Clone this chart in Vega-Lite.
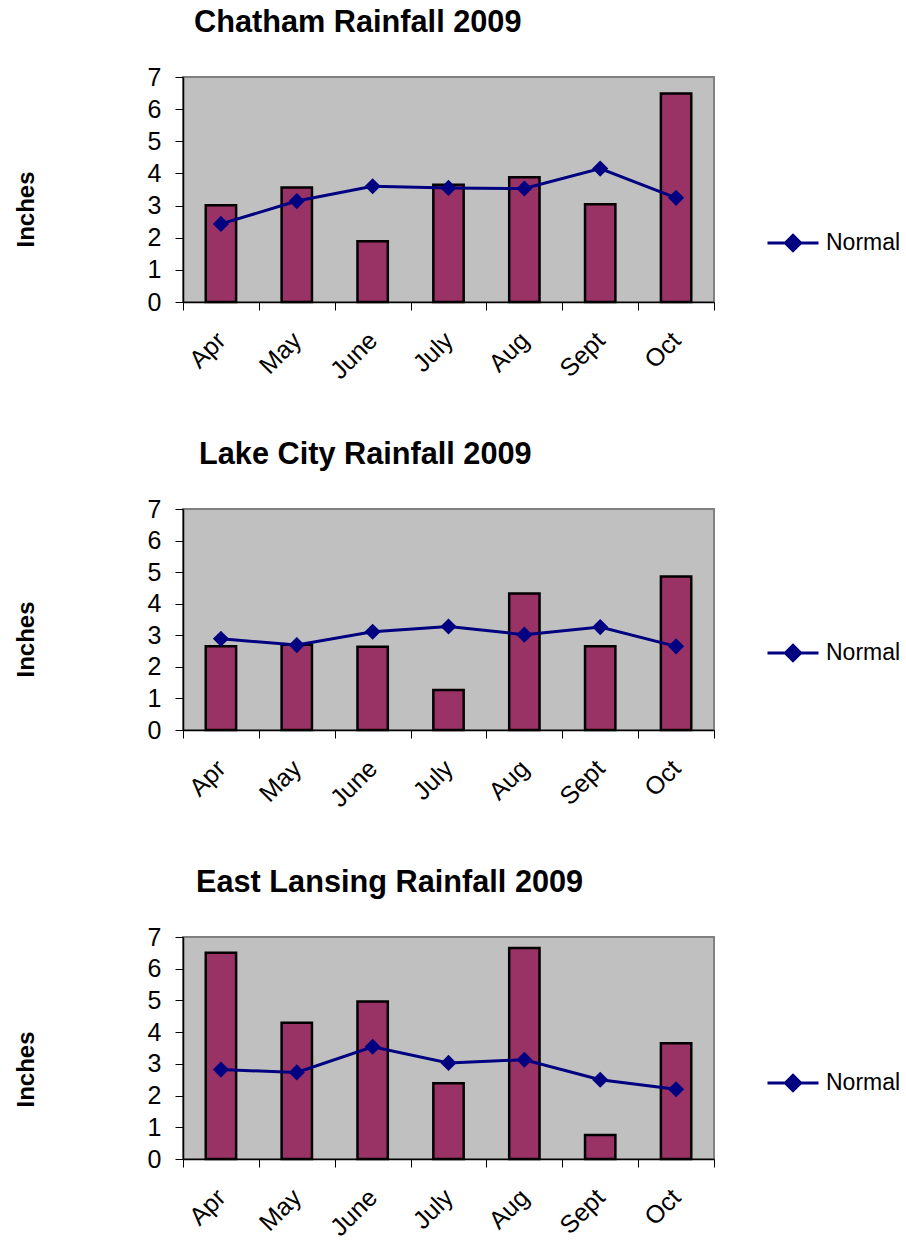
{
  "$schema": "https://vega.github.io/schema/vega-lite/v6.json",
  "background": "white",
  "padding": {"left": 13, "top": 6, "right": 5, "bottom": 2},
  "spacing": 53,
  "datasets": {
    "rain": [
      {"city": "Chatham", "month": "Apr", "rain": 3.01, "normal": 2.43},
      {"city": "Chatham", "month": "May", "rain": 3.56, "normal": 3.14},
      {"city": "Chatham", "month": "June", "rain": 1.89, "normal": 3.6},
      {"city": "Chatham", "month": "July", "rain": 3.65, "normal": 3.55},
      {"city": "Chatham", "month": "Aug", "rain": 3.88, "normal": 3.53},
      {"city": "Chatham", "month": "Sept", "rain": 3.04, "normal": 4.15},
      {"city": "Chatham", "month": "Oct", "rain": 6.49, "normal": 3.24},
      {"city": "Lake City", "month": "Apr", "rain": 2.65, "normal": 2.89},
      {"city": "Lake City", "month": "May", "rain": 2.7, "normal": 2.69},
      {"city": "Lake City", "month": "June", "rain": 2.64, "normal": 3.11},
      {"city": "Lake City", "month": "July", "rain": 1.27, "normal": 3.28},
      {"city": "Lake City", "month": "Aug", "rain": 4.32, "normal": 3.02},
      {"city": "Lake City", "month": "Sept", "rain": 2.65, "normal": 3.26},
      {"city": "Lake City", "month": "Oct", "rain": 4.86, "normal": 2.65},
      {"city": "East Lansing", "month": "Apr", "rain": 6.5, "normal": 2.82},
      {"city": "East Lansing", "month": "May", "rain": 4.3, "normal": 2.73},
      {"city": "East Lansing", "month": "June", "rain": 4.97, "normal": 3.54},
      {"city": "East Lansing", "month": "July", "rain": 2.39, "normal": 3.03},
      {"city": "East Lansing", "month": "Aug", "rain": 6.65, "normal": 3.13},
      {"city": "East Lansing", "month": "Sept", "rain": 0.76, "normal": 2.5},
      {"city": "East Lansing", "month": "Oct", "rain": 3.65, "normal": 2.2}
    ]
  },
  "resolve": {"scale": {"color": "independent"}, "legend": {"color": "independent"}},
  "vconcat": [
    {
      "width": 531, "height": 225,
      "title": {"text": "Chatham Rainfall 2009", "dx": 11},
      "data": {"name": "rain"},
      "transform": [{"filter": "datum.city === 'Chatham'"}],
      "encoding": {
        "x": {"field": "month", "type": "nominal", "title": null, "sort": ["Apr", "May", "June", "July", "Aug", "Sept", "Oct"], "scale": {"paddingInner": 0, "paddingOuter": 0}}
      },
      "layer": [
        {"mark": {"type": "bar", "width": {"band": 0.4}, "fill": "#993366", "stroke": "#000000", "strokeWidth": 2.5},
         "encoding": {"y": {"field": "rain", "type": "quantitative", "title": "Inches", "scale": {"domain": [0, 7]}, "axis": {"titleY": 132}}}},
        {"mark": {"type": "line", "strokeWidth": 3, "point": {"shape": "diamond", "size": 260, "filled": true}},
         "encoding": {"y": {"field": "normal", "type": "quantitative", "title": "Inches"},
           "color": {"datum": "Normal", "type": "nominal", "scale": {"range": ["#000080"]}, "legend": {"orient": "none", "legendX": 583, "legendY": 139}}}}
      ]
    },
    {
      "width": 531, "height": 221,
      "title": {"text": "Lake City Rainfall 2009", "dx": 16},
      "data": {"name": "rain"},
      "transform": [{"filter": "datum.city === 'Lake City'"}],
      "encoding": {
        "x": {"field": "month", "type": "nominal", "title": null, "sort": ["Apr", "May", "June", "July", "Aug", "Sept", "Oct"], "scale": {"paddingInner": 0, "paddingOuter": 0}}
      },
      "layer": [
        {"mark": {"type": "bar", "width": {"band": 0.4}, "fill": "#993366", "stroke": "#000000", "strokeWidth": 2.5},
         "encoding": {"y": {"field": "rain", "type": "quantitative", "title": "Inches", "scale": {"domain": [0, 7]}, "axis": {"titleY": 130}}}},
        {"mark": {"type": "line", "strokeWidth": 3, "point": {"shape": "diamond", "size": 260, "filled": true}},
         "encoding": {"y": {"field": "normal", "type": "quantitative", "title": "Inches"},
           "color": {"datum": "Normal", "type": "nominal", "scale": {"range": ["#000080"]}, "legend": {"orient": "none", "legendX": 583, "legendY": 117}}}}
      ]
    },
    {
      "width": 531, "height": 222,
      "title": {"text": "East Lansing Rainfall 2009", "dx": 13},
      "data": {"name": "rain"},
      "transform": [{"filter": "datum.city === 'East Lansing'"}],
      "encoding": {
        "x": {"field": "month", "type": "nominal", "title": null, "sort": ["Apr", "May", "June", "July", "Aug", "Sept", "Oct"], "scale": {"paddingInner": 0, "paddingOuter": 0}}
      },
      "layer": [
        {"mark": {"type": "bar", "width": {"band": 0.4}, "fill": "#993366", "stroke": "#000000", "strokeWidth": 2.5},
         "encoding": {"y": {"field": "rain", "type": "quantitative", "title": "Inches", "scale": {"domain": [0, 7]}, "axis": {"titleY": 132}}}},
        {"mark": {"type": "line", "strokeWidth": 3, "point": {"shape": "diamond", "size": 260, "filled": true}},
         "encoding": {"y": {"field": "normal", "type": "quantitative", "title": "Inches"},
           "color": {"datum": "Normal", "type": "nominal", "scale": {"range": ["#000080"]}, "legend": {"orient": "none", "legendX": 583, "legendY": 119}}}}
      ]
    }
  ],
  "config": {
    "font": "Liberation Sans",
    "view": {"fill": "#C0C0C0", "stroke": "#808080", "strokeWidth": 2},
    "title": {"font": "Liberation Sans", "fontSize": 30.7, "fontWeight": "bold", "color": "#000000", "anchor": "start", "frame": "group", "offset": 26},
    "axis": {"labelFont": "Liberation Sans", "labelColor": "#000000", "domainColor": "#000000", "tickColor": "#000000", "grid": false, "domainWidth": 1.5, "tickWidth": 1, "tickSize": 8, "titleColor": "#000000"},
    "axisX": {"labelAngle": -45, "labelFontSize": 25, "labelAlign": "right", "labelBaseline": "middle", "tickBand": "extent", "labelPadding": 26},
    "axisY": {"labelFontSize": 25, "labelPadding": 14, "values": [0, 1, 2, 3, 4, 5, 6, 7], "titleFont": "Liberation Sans", "titleFontSize": 24, "titleFontWeight": "bold", "titleAngle": -90, "titleX": -157, "titleAlign": "center", "titleBaseline": "middle"},
    "legend": {"title": null, "labelFont": "Liberation Sans", "labelFontSize": 23, "labelColor": "#000000", "labelOffset": 6, "symbolType": "M-1,0H1M0,-0.3L0.3,0L0,0.3L-0.3,0Z", "symbolSize": 2601, "symbolStrokeWidth": 3, "symbolStrokeColor": "#000080", "symbolFillColor": "#000080", "padding": 0}
  }
}
